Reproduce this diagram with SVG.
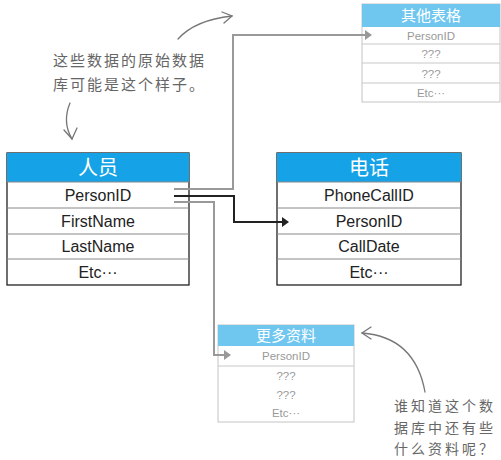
<svg xmlns="http://www.w3.org/2000/svg" width="501" height="460" viewBox="0 0 501 460">
<style>
.hdr{fill:#15a2e6}
.hdr2{fill:#6fc7f0}
.box{fill:#fff;stroke:#222;stroke-width:1.3}
.box2{fill:#fff;stroke:#c4c4c4;stroke-width:1}
.div{stroke:#888;stroke-width:1}
.div2{stroke:#c8c8c8;stroke-width:1}
.t{font-family:"Liberation Sans",Arial,sans-serif;font-size:16px;fill:#222;text-anchor:middle}
.t2{font-family:"Liberation Sans",Arial,sans-serif;font-size:11.5px;fill:#999;text-anchor:middle}
.h{font-family:"Noto Sans CJK SC",sans-serif;font-size:20px;fill:#fff;text-anchor:middle}
.h2{font-family:"Noto Sans CJK SC",sans-serif;font-size:15px;fill:#fff;text-anchor:middle}
.note{font-family:"Noto Sans CJK SC",sans-serif;font-size:15px;fill:#666;letter-spacing:2px}
.note2{font-family:"Noto Sans CJK SC",sans-serif;font-size:14px;fill:#666;letter-spacing:3px}
.g{fill:none;stroke:#999;stroke-width:2}
.k{fill:none;stroke:#222;stroke-width:2}
.hand{fill:none;stroke:#777;stroke-width:1.3;stroke-linecap:round}
</style>
<defs>
<marker id="ak" markerWidth="8" markerHeight="10" refX="1" refY="5" orient="auto" markerUnits="userSpaceOnUse"><path d="M0,0 L7,5 L0,10 z" fill="#222"/></marker>
<marker id="ag" markerWidth="8" markerHeight="10" refX="1" refY="5" orient="auto" markerUnits="userSpaceOnUse"><path d="M0,0 L7,5 L0,10 z" fill="#999"/></marker>
</defs>

<g id="people">
<rect class="box" x="7" y="153" width="182" height="132"/>
<rect class="hdr" x="7" y="153" width="182" height="29"/>
<line class="div" x1="7" y1="182" x2="189" y2="182"/>
<line class="div" x1="7" y1="208" x2="189" y2="208"/>
<line class="div" x1="7" y1="234" x2="189" y2="234"/>
<line class="div" x1="7" y1="259" x2="189" y2="259"/>
<text class="h" x="98" y="175">人员</text>
<text class="t" x="98" y="201">PersonID</text>
<text class="t" x="98" y="227">FirstName</text>
<text class="t" x="98" y="252">LastName</text>
<text class="t" x="98" y="278">Etc···</text>
</g>

<g id="phone">
<rect class="box" x="277" y="153" width="184" height="132"/>
<rect class="hdr" x="277" y="153" width="184" height="29"/>
<line class="div" x1="277" y1="182" x2="461" y2="182"/>
<line class="div" x1="277" y1="208" x2="461" y2="208"/>
<line class="div" x1="277" y1="234" x2="461" y2="234"/>
<line class="div" x1="277" y1="259" x2="461" y2="259"/>
<text class="h" x="369" y="175">电话</text>
<text class="t" x="369" y="201">PhoneCallID</text>
<text class="t" x="369" y="227">PersonID</text>
<text class="t" x="369" y="252">CallDate</text>
<text class="t" x="369" y="278">Etc···</text>
</g>

<g id="other">
<rect class="box2" x="362" y="4" width="138" height="98"/>
<rect class="hdr2" x="362" y="4" width="138" height="23"/>
<line class="div2" x1="362" y1="44" x2="500" y2="44"/>
<line class="div2" x1="362" y1="63" x2="500" y2="63"/>
<line class="div2" x1="362" y1="83" x2="500" y2="83"/>
<text class="h2" x="431" y="21">其他表格</text>
<text class="t2" x="431" y="40">PersonID</text>
<text class="t2" x="431" y="58">???</text>
<text class="t2" x="431" y="78">???</text>
<text class="t2" x="431" y="97">Etc···</text>
</g>

<g id="more">
<rect class="box2" x="218" y="325" width="136" height="97"/>
<rect class="hdr2" x="218" y="325" width="136" height="21"/>
<line class="div2" x1="218" y1="366" x2="354" y2="366"/>
<text class="h2" x="286" y="341">更多资料</text>
<text class="t2" x="286" y="360">PersonID</text>
<text class="t2" x="286" y="380">???</text>
<text class="t2" x="286" y="399">???</text>
<text class="t2" x="286" y="417">Etc···</text>
</g>

<g id="connectors">
<polyline class="g" points="174,189 233,189 233,35 366,35" marker-end="url(#ag)"/>
<polyline class="k" points="174,196 234,196 234,222 283,222" marker-end="url(#ak)"/>
<polyline class="g" points="174,202 214,202 214,355 225,355" marker-end="url(#ag)"/>
</g>

<g id="notes">
<text class="note" x="53" y="66">这些数据的原始数据</text>
<text class="note" x="53" y="90">库可能是这个样子。</text>
<path class="hand" d="M178,39 Q195,20 232,16"/>
<path class="hand" d="M222,12 L232,16 L224,23"/>
<path class="hand" d="M70,103 Q62,122 72,139"/>
<path class="hand" d="M64,130 L72,139 L77,128"/>
<text class="note2" x="394" y="411">谁知道这个数</text>
<text class="note2" x="394" y="433">据库中还有些</text>
<text class="note2" x="394" y="454">什么资料呢？</text>
<path class="hand" d="M425,392 Q415,337 362,333"/>
<path class="hand" d="M371,327 L362,333 L371,339"/>
</g>
</svg>
